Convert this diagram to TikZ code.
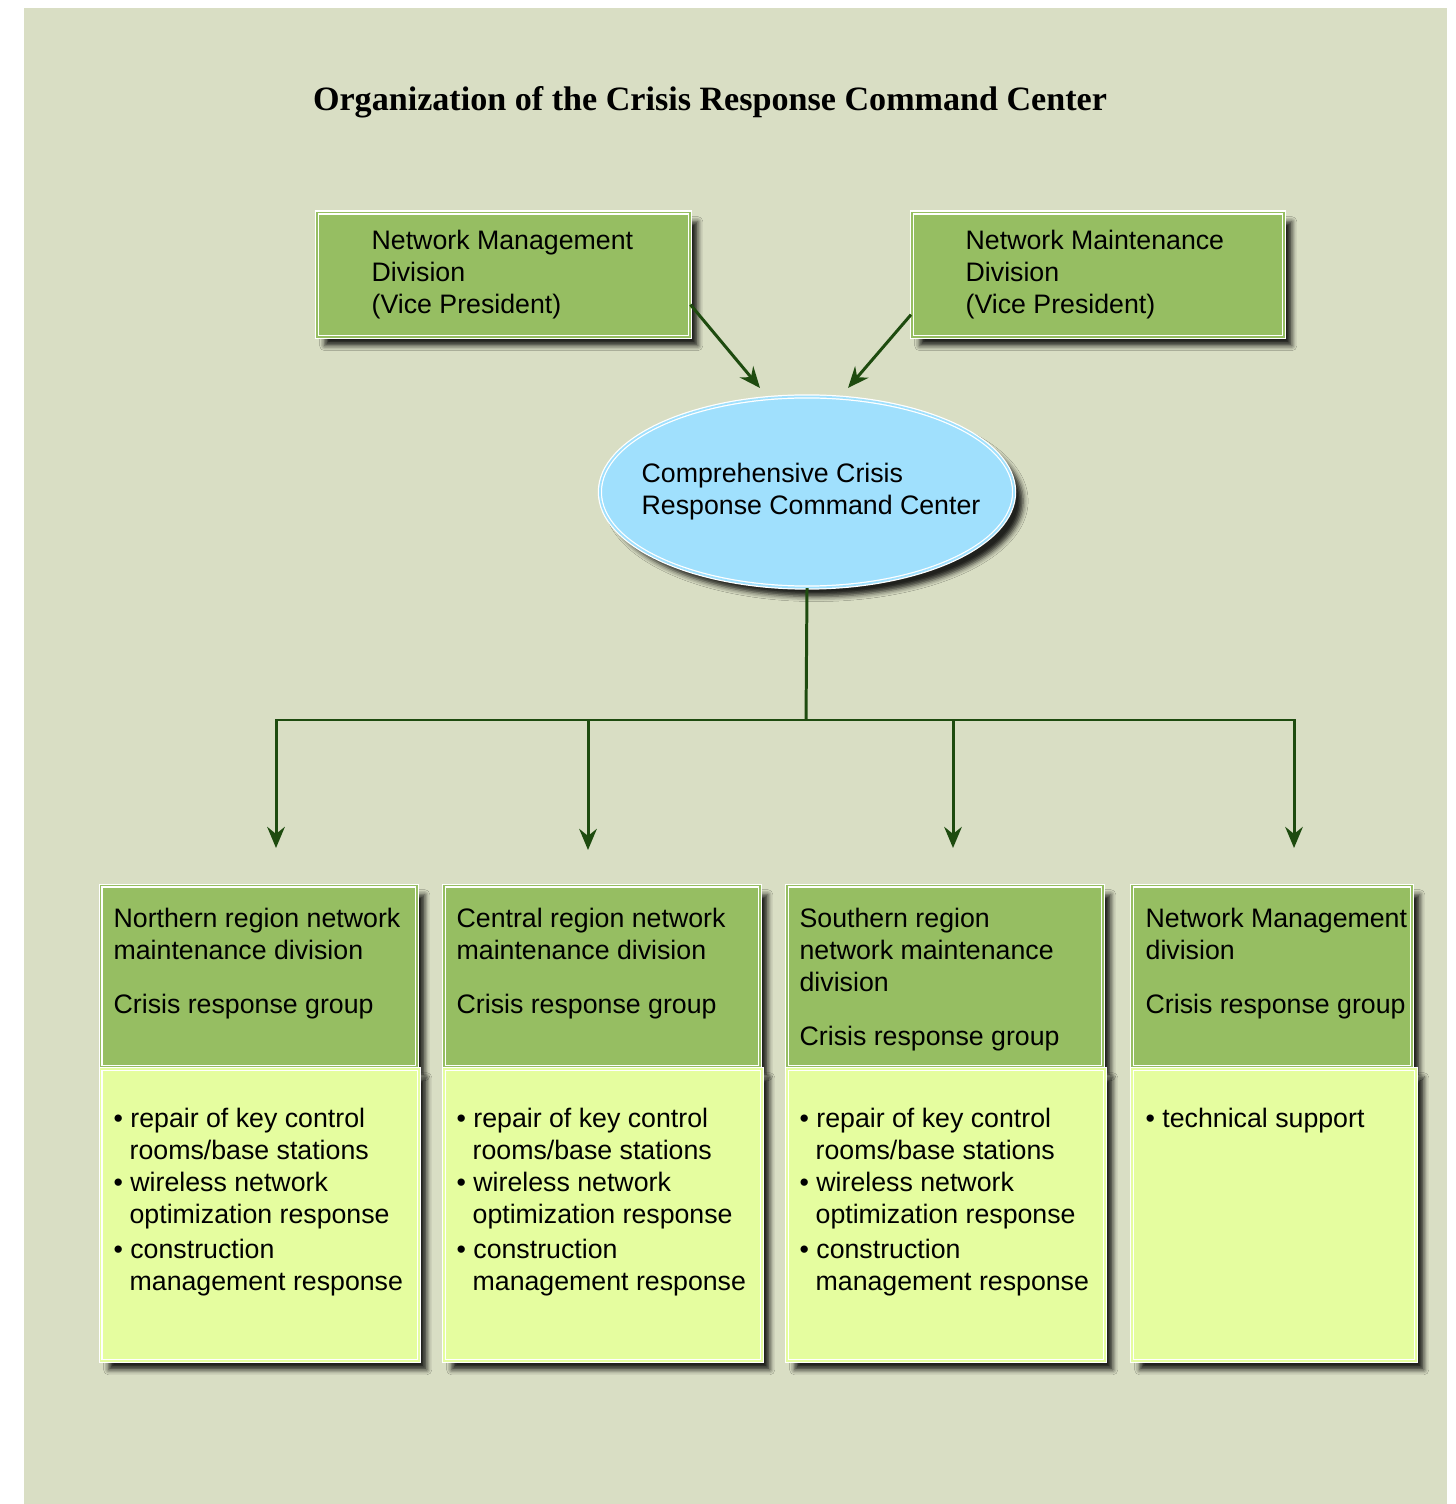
\documentclass[tikz,border=0pt]{standalone}
\usepackage{fontspec}
\setmainfont{Liberation Sans}
\newfontfamily\titlefont{Liberation Serif}
\usetikzlibrary{arrows.meta,shapes.geometric,shadows.blur}
\definecolor{bgcol}{HTML}{D9DEC4}
\definecolor{hdrgreen}{HTML}{96BE62}
\definecolor{lowyellow}{HTML}{E5FD9F}
\definecolor{skyblue}{HTML}{A0E0FD}
\definecolor{arrgreen}{HTML}{1E4B0F}
% text block inside a box: width, height, left indent, top gap, content
\newcommand{\boxtext}[5]{\parbox[c][#2][t]{#1}{\raggedright\leftskip=#3\relax\vspace*{#4}#5}}
\newcommand{\bitem}[1]{\hangindent=0.16cm\hangafter=1\strut\textbullet\ #1\par}
\tikzset{
  box/.style={rectangle, anchor=north west, inner sep=0pt, draw=white,
    line width=0.35pt, double distance=0.5pt,
    blur shadow={shadow xshift=0.08cm, shadow yshift=-0.09cm,
      shadow blur radius=0.05cm, shadow opacity=85},
    font=\fontsize{7.6}{9.1}\selectfont},
  topbox/.style={box, fill=hdrgreen, double=hdrgreen},
  hdr/.style={box, fill=hdrgreen, double=hdrgreen},
  low/.style={box, fill=lowyellow, double=lowyellow},
  centre/.style={ellipse, fill=skyblue, draw=white, line width=0.35pt,
    double=skyblue, double distance=0.5pt, inner sep=0pt,
    minimum width=4.14cm, minimum height=1.91cm,
    blur shadow={shadow xshift=0.09cm, shadow yshift=-0.09cm,
      shadow blur radius=0.05cm, shadow opacity=85},
    font=\fontsize{7.6}{9.1}\selectfont},
  link/.style={draw=arrgreen, line width=0.85pt},
  arr/.style={link, -{Stealth[length=6pt, width=5pt, inset=2pt]}},
  title/.style={anchor=base, font=\titlefont\bfseries\fontsize{9.7}{11}\selectfont}
}
\begin{document}
\begin{tikzpicture}[x=0.01cm, y=-0.01cm]
\useasboundingbox (0,0) rectangle (1455,1504);
\fill[bgcol] (24,8) rectangle (1447,1504);

\node[title] (ttl) at (710,111) {Organization of the Crisis Response Command Center};

% vice presidents
\node[topbox] (mgmt) at (316,212) {\boxtext{3.73cm}{1.24cm}{0.55cm}{0.146cm}{\strut Network Management\\Division\\(Vice President)}};
\node[topbox] (mnt) at (911,212) {\boxtext{3.72cm}{1.24cm}{0.54cm}{0.146cm}{\strut Network Maintenance\\Division\\(Vice President)}};

% command center
\node[centre] (ccc) at (807,492) {\makebox[0pt]{\hspace{0.08cm}\raisebox{-0.02cm}{\begin{tabular}{@{}l@{}}Comprehensive Crisis\\Response Command Center\end{tabular}}}};

% regional groups
\node[hdr] (nhdr) at (100,885) {\boxtext{3.16cm}{1.81cm}{0.13cm}{0.196cm}{\strut Northern region network\\maintenance division\par\vspace{0.22cm}Crisis response group}};
\node[hdr] (chdr) at (443,885) {\boxtext{3.16cm}{1.81cm}{0.13cm}{0.196cm}{\strut Central region network\\maintenance division\par\vspace{0.22cm}Crisis response group}};
\node[hdr] (shdr) at (786,885) {\boxtext{3.16cm}{1.81cm}{0.13cm}{0.196cm}{\strut Southern region\\network maintenance\\division\par\vspace{0.22cm}Crisis response group}};
\node[hdr] (mhdr) at (1131,885) {\boxtext{2.80cm}{1.81cm}{0.14cm}{0.196cm}{\strut Network Management\\division\par\vspace{0.22cm}Crisis response group}};

\node[low] (nlow) at (100,1068) {\boxtext{3.18cm}{2.92cm}{0.13cm}{0.366cm}{\bitem{repair of key control\newline rooms/base stations}\bitem{wireless network\newline optimization response}\vspace{0.03cm}\bitem{construction\newline management response}}};
\node[low] (clow) at (443,1068) {\boxtext{3.18cm}{2.92cm}{0.13cm}{0.366cm}{\bitem{repair of key control\newline rooms/base stations}\bitem{wireless network\newline optimization response}\vspace{0.03cm}\bitem{construction\newline management response}}};
\node[low] (slow) at (786,1068) {\boxtext{3.18cm}{2.92cm}{0.13cm}{0.366cm}{\bitem{repair of key control\newline rooms/base stations}\bitem{wireless network\newline optimization response}\vspace{0.03cm}\bitem{construction\newline management response}}};
\node[low] (mlow) at (1131,1068) {\boxtext{2.84cm}{2.92cm}{0.14cm}{0.366cm}{\bitem{technical support}}};

% connectors
\coordinate (tipL) at (760,388);
\coordinate (tipR) at (848,388);
\coordinate (bus) at (806,720);
\coordinate (t1) at (276,848);
\coordinate (t2) at (588,850);
\coordinate (t3) at (953,848);
\coordinate (t4) at (1294,848);

\draw[arr] ([yshift=-0.3cm]mgmt.east) -- (tipL);
\draw[arr] ([yshift=-0.4cm]mnt.west) -- (tipR);
\draw[link] (ccc.south) -- (bus);
\draw[arr] (bus) -| (t1);
\draw[arr] (bus) -| (t2);
\draw[arr] (bus) -| (t3);
\draw[arr] (bus) -| (t4);
\end{tikzpicture}
\end{document}
